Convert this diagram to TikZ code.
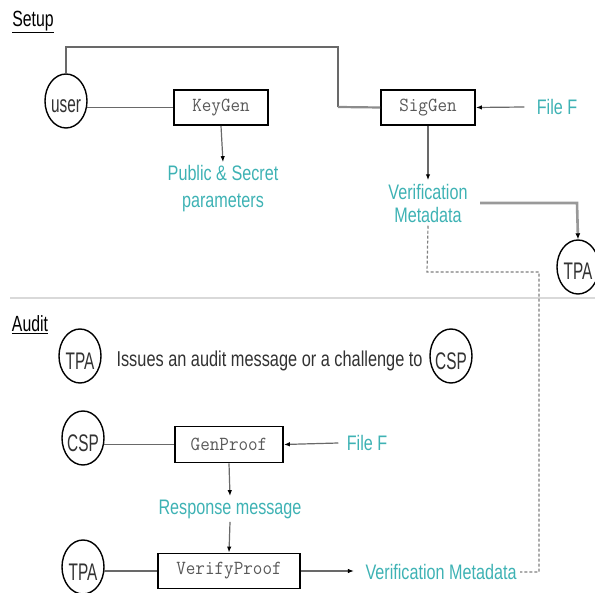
\documentclass[tikz,border=0pt]{standalone}
\usepackage{fontspec}
\usepackage{graphicx}
\setmainfont{Liberation Sans}
\usetikzlibrary{shapes.geometric,arrows.meta}
\definecolor{tealtext}{RGB}{62,178,180}
\definecolor{connc}{RGB}{105,105,105}
\definecolor{darktext}{RGB}{50,50,50}
\newcommand\narT[1]{\scalebox{0.77}[1]{#1}}
\newcommand\narA[1]{\scalebox{0.64}[1]{#1}}
\newcommand\narM[1]{\scalebox{0.93}[1]{#1}}
\newcommand\narH[1]{\scalebox{0.72}[1]{#1}}
\begin{document}
\begin{tikzpicture}[x=1pt,y=-1pt,
  every node/.style={font=\fontsize{21}{24}\selectfont},
  proc/.style={draw=black,line width=1.8pt,minimum height=35pt,inner sep=0pt,
    font=\fontsize{20}{22}\ttfamily, text=black!65},
  actor/.style={ellipse,draw=black,line width=1.4pt,minimum width=42pt,minimum height=54pt,inner sep=0pt},
  actlbl/.style={font=\fontsize{24}{26}\selectfont, text=darktext},
  lbl/.style={text=tealtext, align=center},
  conn/.style={draw=connc,line width=1.2pt},
  arr/.style={conn,-{Latex[length=6pt,width=4.5pt,color=black]}},
  heavy/.style={draw=black!40,line width=2.6pt},
  dashc/.style={draw=black!50,line width=1.2pt,dash pattern=on 3pt off 2pt},
  head/.style={font=\fontsize{22}{24}\selectfont, text=black}]
\useasboundingbox (0,0) rectangle (595,593);
\clip (0,0) rectangle (595,593);

% ---------- Setup ----------
\node[head] (setup) at (33,22) {\underline{\narH{Setup}}};
\node[actor, label={[actlbl,yshift=-5pt]center:\narA{user}}] (user) at (66,101) {};
\node[proc, minimum width=94pt] (keygen) at (221,107.5) {\narM{KeyGen}};
\node[proc, minimum width=94pt] (siggen) at (428,107.5) {\narM{SigGen}};
\node[lbl] (file1) at (557,107) {\narT{File F}};
\node[lbl, font=\fontsize{21}{27}\selectfont] (pubsec) at (223,189) {\narT{Public \& Secret}\\\narT{parameters}};
\node[lbl, font=\fontsize{21}{23}\selectfont] (vmeta) at (428,203) {\narT{Verification}\\\narT{Metadata}};
\node[actor, label={[actlbl,yshift=-4pt]center:\narA{TPA}}] (tpa1) at (578,267) {};

\coordinate (c1) at (66,47);
\coordinate (c2) at (338,47);
\coordinate (c3) at (338,107);
\draw[conn] (user.north) -- (c1) -- (c2) -- (c3);
\draw[conn, line width=2.2pt, draw=black!45] (c3) -- (siggen.west);
\draw[conn] (user.east |- keygen.west) ++(-1,0) -- (keygen.west);
\draw[arr] (keygen.south) -- (pubsec.north);
\draw[arr] (siggen.south) -- (vmeta.north);
\draw[arr] (file1.west) ++(-9,0) -- (siggen.east);
\coordinate (c4) at (577,203);
\coordinate (c5) at (480,203);
\draw[heavy,-{Latex[length=6pt,width=5pt,color=black]}] (c5) -- (c4) -- (tpa1.north);

% separator
\coordinate (s1) at (10,298);
\coordinate (s2) at (595,298);
\draw[draw=black!15,line width=1.5pt] (s1) -- (s2);

% ---------- Audit ----------
\node[head] (audit) at (30,325) {\underline{\narH{Audit}}};
\node[actor, label={[actlbl,yshift=-5pt]center:\narA{TPA}}] (tpa2) at (80,356) {};
\node[anchor=west, text=darktext, font=\fontsize{21.5}{24}\selectfont] (issues) at (113,361) {\scalebox{0.76}[1]{Issues an audit message or a challenge to}};
\node[actor, label={[actlbl,yshift=-5pt]center:\narA{CSP}}] (csp1) at (451,356) {};

\node[actor, label={[actlbl,yshift=-5pt]center:\narA{CSP}}] (csp2) at (83,438) {};
\node[proc, minimum width=108pt, minimum height=36pt] (genproof) at (229,444.5) {\narM{GenProof}};
\node[lbl] (file2) at (367,443) {\narT{File F}};
\node[lbl] (resp) at (230,509) {\narT{Response message}};
\node[actor, label={[actlbl,yshift=-5pt]center:\narA{TPA}}] (tpa3) at (83,567) {};
\node[proc, minimum width=142pt, minimum height=35pt] (verify) at (229,571) {\narM{VerifyProof}};
\node[lbl, anchor=west] (vmeta2) at (362,572) {\narT{Verification Metadata}};

\draw[conn] (csp2.east |- genproof.west) ++(-1,0) -- (genproof.west);
\draw[arr] (file2.west) ++(-5,0) -- (genproof.east);
\draw[arr] (genproof.south) -- (resp.north);
\draw[arr] (resp.south) -- (verify.north);
\draw[conn] (tpa3.east |- verify.west) ++(-1,0) -- (verify.west);
\draw[arr] (verify.east) -- ++(53,0);

% dashed link
\coordinate (d1) at (427,272);
\coordinate (d2) at (539,272);
\coordinate (d3) at (539,572);
\draw[dashc] (vmeta.south) -- (d1) -- (d2) -- (d3) -- (vmeta2.east);
\end{tikzpicture}
\end{document}
